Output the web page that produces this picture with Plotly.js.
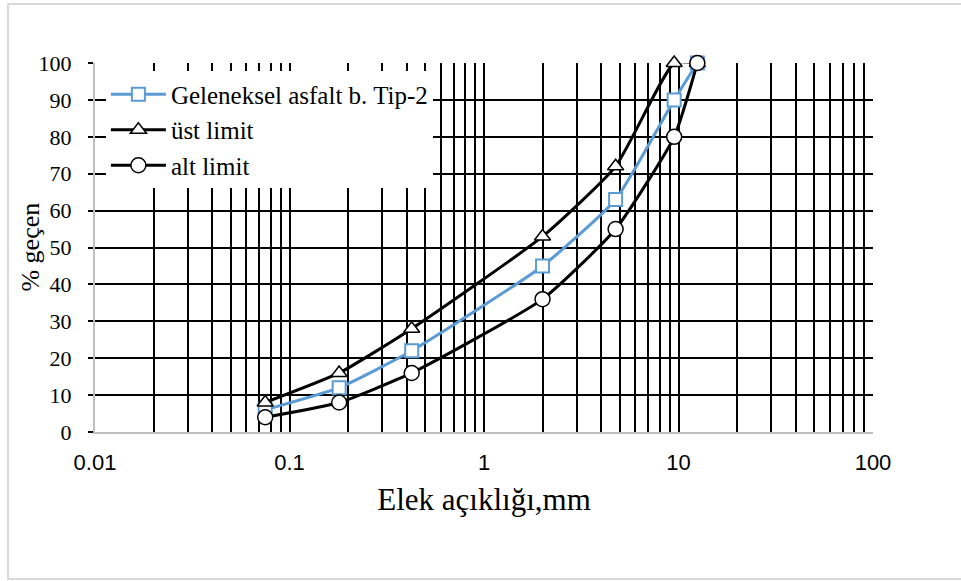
<!DOCTYPE html>
<html>
<head>
<meta charset="utf-8">
<script src="https://cdn.plot.ly/plotly-3.0.1.min.js"></script>
<style>
html,body{margin:0;padding:0;background:#fff;}
#wrap{position:relative;width:961px;height:581px;overflow:hidden;}
#chart{width:961px;height:581px;}
#frame{position:absolute;left:7px;top:3px;width:970px;height:573px;border:2px solid #d9d9d9;pointer-events:none;}
</style>
</head>
<body>
<div id="wrap"><div id="chart"></div><div id="frame"></div></div>
<script>
// Sieve sizes (mm)
const sieves = [0.075, 0.18, 0.425, 2, 4.75, 9.5, 12.5];
// % passing
const geleneksel = [6, 12, 22, 45, 63, 90, 100];
const ustLimit = [8, 16, 28, 53, 72, 100, 100];
const altLimit = [4, 8, 16, 36, 55, 80, 100];
const seriesNames = ["Geleneksel asfalt b. Tip-2", "üst limit", "alt limit"];
const xTickLabels = ["0.01", "0.1", "1", "10", "100"];
const yTickVals = [0, 10, 20, 30, 40, 50, 60, 70, 80, 90, 100];
const xTitle = "Elek açıklığı,mm";
const yTitle = "% geçen";

// grid positions on log axis: 1..9 in each decade
const decades = [0.01, 0.1, 1, 10];
const xTickVals = [], xTickText = [];
decades.forEach((d, i) => {
  for (let k = 1; k <= 9; k++) {
    xTickVals.push(+(d * k).toPrecision(3));
    xTickText.push(k === 1 ? xTickLabels[i] : "");
  }
});
xTickVals.push(100); xTickText.push(xTickLabels[4]);

const serif = "Liberation Serif, Times New Roman, serif";

const traces = [
  {type: "scatter", mode: "lines+markers", x: sieves, y: geleneksel, name: seriesNames[0], legendgroup: "a", cliponaxis: false,
    line: {shape: "spline", smoothing: 0.5, width: 3, color: "#5B9BD5"},
    marker: {symbol: "square", size: 13, color: "#ffffff", line: {color: "#5B9BD5", width: 2}}},
  {type: "scatter", mode: "lines+markers", x: sieves, y: ustLimit, name: seriesNames[1], legendgroup: "b", cliponaxis: false,
    line: {shape: "spline", smoothing: 0.5, width: 3, color: "#000000"},
    marker: {symbol: "triangle-up", size: 14, color: "#ffffff", line: {color: "#000000", width: 1.5}}},
  {type: "scatter", mode: "lines+markers", x: sieves, y: altLimit, name: seriesNames[2], legendgroup: "c", cliponaxis: false,
    line: {shape: "spline", smoothing: 0.5, width: 3, color: "#000000"},
    marker: {symbol: "circle", size: 15, color: "#ffffff", line: {color: "#000000", width: 1.5}}}
];

const layout = {
  width: 961, height: 581,
  margin: {l: 95, r: 88, t: 63, b: 149},
  paper_bgcolor: "#ffffff", plot_bgcolor: "#ffffff",
  showlegend: true,
  legend: {x: 0.014, y: 0.977, xanchor: "left", yanchor: "top", bgcolor: "#ffffff",
    font: {family: serif, size: 25, color: "#000"},
    traceorder: "grouped", tracegroupgap: 0, itemwidth: 55},
  xaxis: {type: "log", range: [-2, 2], tickmode: "array", tickvals: xTickVals, ticktext: xTickText,
    showgrid: true, gridcolor: "#000000", gridwidth: 2, ticks: "",
    showline: true, linecolor: "#bfbfbf", linewidth: 2, zeroline: false,
    ticklabelstandoff: 10,
    tickfont: {family: "Liberation Sans, Arial, sans-serif", size: 22, color: "#000"},
    title: {text: xTitle, standoff: 14,
      font: {family: serif, size: 31, color: "#000"}}},
  yaxis: {range: [0, 100], tickmode: "array", tickvals: yTickVals,
    showgrid: true, gridcolor: "#000000", gridwidth: 2, zeroline: false,
    ticks: "outside", ticklen: 5, tickwidth: 2, tickcolor: "#000",
    showline: true, linecolor: "#bfbfbf", linewidth: 2,
    ticklabelstandoff: 12,
    tickfont: {family: serif, size: 22, color: "#000"}},
  annotations: [{text: yTitle, textangle: -90, xref: "paper", yref: "paper",
    x: -0.0835, y: 0.5, xanchor: "center", yanchor: "middle", showarrow: false,
    font: {family: serif, size: 26, color: "#000"}}]
};

Plotly.newPlot("chart", traces, layout, {displayModeBar: false, staticPlot: true});
</script>
</body>
</html>
